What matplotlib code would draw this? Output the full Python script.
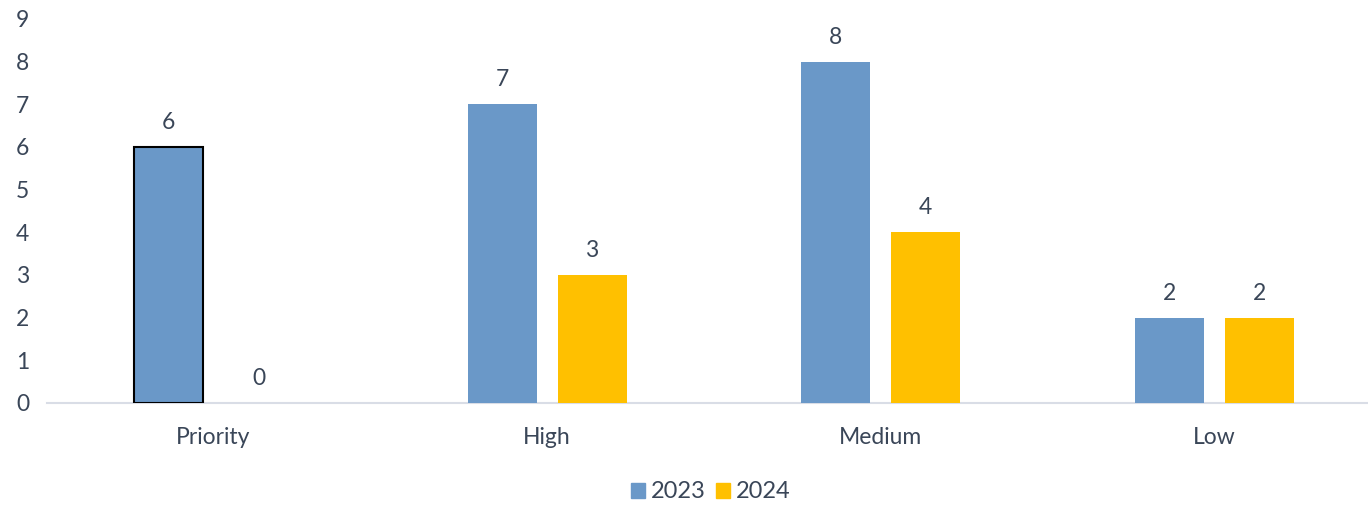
import matplotlib
matplotlib.use("Agg")
import matplotlib.pyplot as plt
from matplotlib.patches import Patch

categories = ["Priority", "High", "Medium", "Low"]
series_names = ["2023", "2024"]
values_2023 = [6, 7, 8, 2]
values_2024 = [0, 3, 4, 2]
yticks = list(range(0, 10))

blue = "#6a98c8"
gold = "#ffc000"
txt = "#3a4658"
plt.rcParams['font.family'] = ['Lato', 'DejaVu Sans']

fig = plt.figure(figsize=(13.68, 5.05), dpi=100)
ax = fig.add_axes([0.0341, 0.202, 0.9757, 0.7604])

x = list(range(len(categories)))
w = 0.207
off = 0.1347
b1 = ax.bar([i - off for i in x], values_2023, width=w, color=blue, zorder=3)
b2 = ax.bar([i + off for i in x], values_2024, width=w, color=gold, zorder=3)
b1[0].set_edgecolor("black")
b1[0].set_linewidth(1.5)

for bars, vals in ((b1, values_2023), (b2, values_2024)):
    for r, v in zip(bars, vals):
        ax.text(r.get_x() + r.get_width() / 2, v + 0.33, str(v), ha="center", va="bottom",
                fontsize=16.5, color=txt)

ax.set_xlim(-0.5, 3.5)
ax.set_ylim(0, 9)
ax.set_yticks(yticks)
ax.set_xticks(x)
ax.set_xticklabels(categories)
for s in ["top", "right", "left"]:
    ax.spines[s].set_visible(False)
ax.spines["bottom"].set_color("#d9dde6")
ax.spines["bottom"].set_linewidth(1.5)
ax.tick_params(axis="both", length=0, labelsize=16.5, colors=txt)
ax.tick_params(axis="y", pad=22)
ax.tick_params(axis="x", pad=17)
for lab in ax.get_yticklabels():
    lab.set_horizontalalignment("left")

handles = [Patch(color=blue), Patch(color=gold)]
fig.legend(handles, series_names, loc="center", bbox_to_anchor=(0.5195, 0.026), ncol=2,
           frameon=False, fontsize=17, handlelength=0.6, handleheight=0.6,
           handletextpad=0.25, columnspacing=0.45, labelcolor=txt)

fig.savefig("out.png", dpi=100)
